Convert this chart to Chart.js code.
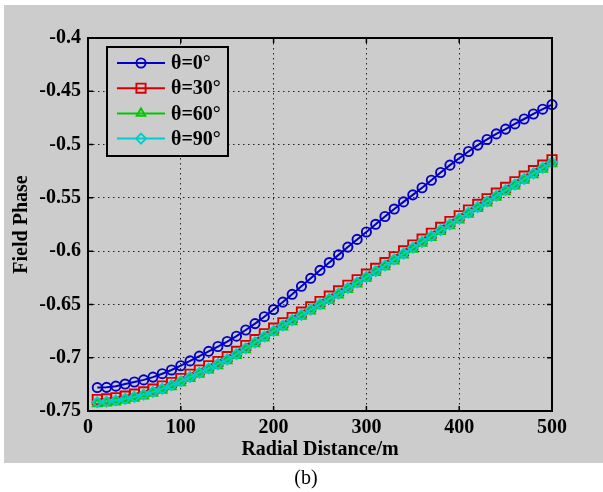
<!DOCTYPE html>
<html>
<head>
<meta charset="utf-8">
<script src="https://cdn.jsdelivr.net/npm/chart.js@4.4.1/dist/chart.umd.min.js"></script>
<style>
body { margin: 0; background: #fff; }
#wrap { position: relative; width: 603px; height: 492px; overflow: hidden; }
#bg { position: absolute; left: 4px; top: 5px; width: 599px; height: 458px; background: #cccccc; }
#c { position: absolute; left: 0; top: 0; }
#caption { position: absolute; left: 0; top: 465px; width: 612px; text-align: center; font: 20px 'Liberation Serif'; line-height: 24px; color: #000; }
</style>
</head>
<body>
<div id="wrap">
  <div id="bg"></div>
  <canvas id="c" width="603" height="492"></canvas>
  <div id="caption">(b)</div>
</div>
<script>
const distances = [10,20,30,40,50,60,70,80,90,100,110,120,130,140,150,160,170,180,190,200,
  210,220,230,240,250,260,270,280,290,300,310,320,330,340,350,360,370,380,390,400,
  410,420,430,440,450,460,470,480,490,500]

const phase0 = [-0.7280,-0.7278,-0.7267,-0.7247,-0.7228,-0.7208,-0.7182,-0.7150,-0.7115,-0.7075,
  -0.7030,-0.6985,-0.6940,-0.6895,-0.6848,-0.6798,-0.6740,-0.6680,-0.6615,-0.6548,
  -0.6478,-0.6405,-0.6330,-0.6255,-0.6180,-0.6107,-0.6035,-0.5962,-0.5890,-0.5820,
  -0.5748,-0.5675,-0.5605,-0.5538,-0.5472,-0.5405,-0.5335,-0.5262,-0.5193,-0.5128,
  -0.5065,-0.5005,-0.4952,-0.4900,-0.4855,-0.4806,-0.4760,-0.4713,-0.4668,-0.4625]

const phase30 = [-0.7392,-0.7386,-0.7375,-0.7360,-0.7342,-0.7320,-0.7295,-0.7265,-0.7232,-0.7195,
  -0.7155,-0.7115,-0.7075,-0.7035,-0.6990,-0.6940,-0.6885,-0.6830,-0.6775,-0.6722,
  -0.6672,-0.6622,-0.6572,-0.6522,-0.6472,-0.6422,-0.6372,-0.6320,-0.6268,-0.6215,
  -0.6161,-0.6107,-0.6052,-0.5997,-0.5942,-0.5887,-0.5832,-0.5777,-0.5722,-0.5668,
  -0.5614,-0.5561,-0.5508,-0.5455,-0.5402,-0.5349,-0.5296,-0.5244,-0.5192,-0.5142]

const phase60 = [-0.7432,-0.7426,-0.7415,-0.7400,-0.7382,-0.7360,-0.7335,-0.7305,-0.7272,-0.7235,
  -0.7195,-0.7155,-0.7115,-0.7075,-0.7030,-0.6980,-0.6925,-0.6870,-0.6815,-0.6762,
  -0.6712,-0.6662,-0.6612,-0.6562,-0.6512,-0.6462,-0.6412,-0.6360,-0.6308,-0.6255,
  -0.6201,-0.6147,-0.6092,-0.6037,-0.5982,-0.5927,-0.5872,-0.5817,-0.5762,-0.5708,
  -0.5654,-0.5601,-0.5548,-0.5495,-0.5442,-0.5389,-0.5336,-0.5284,-0.5232,-0.5180]

const phase90 = [-0.7418,-0.7412,-0.7401,-0.7386,-0.7368,-0.7346,-0.7321,-0.7291,-0.7258,-0.7221,
  -0.7181,-0.7141,-0.7101,-0.7061,-0.7016,-0.6966,-0.6911,-0.6856,-0.6801,-0.6748,
  -0.6698,-0.6648,-0.6598,-0.6548,-0.6498,-0.6448,-0.6398,-0.6346,-0.6294,-0.6241,
  -0.6187,-0.6133,-0.6078,-0.6023,-0.5968,-0.5913,-0.5858,-0.5803,-0.5748,-0.5694,
  -0.5640,-0.5587,-0.5534,-0.5481,-0.5428,-0.5375,-0.5322,-0.5270,-0.5218,-0.5168]

const seriesLabels = ["θ=0°", "θ=30°", "θ=60°", "θ=90°"]
const seriesColors = ["rgb(0,0,200)", "rgb(215,0,0)", "rgb(0,200,0)", "rgb(0,205,205)"]
const seriesMarkers = ["circle", "rect", "triangle", "rectRot"]
const markerSizes = [4.6, 6.5, 5, 5]

const xTicks = [0, 100, 200, 300, 400, 500]
const yTicks = [-0.75, -0.7, -0.65, -0.6, -0.55, -0.5, -0.45, -0.4]
const yTickLabels = ["-0.75", "-0.7", "-0.65", "-0.6", "-0.55", "-0.5", "-0.45", "-0.4"]

const font = { family: "'Liberation Serif'", size: 20, weight: "bold" }
const allSeries = [phase0, phase30, phase60, phase90]

function makeDataset(i){
    return {
        label: seriesLabels[i],
        data: distances.map((d, k) => ({ x: d, y: allSeries[i][k] })),
        borderColor: seriesColors[i],
        borderWidth: 2,
        pointStyle: seriesMarkers[i],
        pointRadius: markerSizes[i],
        pointBorderColor: seriesColors[i],
        pointBackgroundColor: "rgba(0,0,0,0)",
        pointBorderWidth: 1.9,
        tension: 0,
        clip: false,
        order: 3 - i
    }
}

// box, inward ticks and the legend inside the axes
const frame = {
    id: "frame",
    afterDatasetsDraw(chart){
        const ctx = chart.ctx
        const a = chart.chartArea
        const x = chart.scales.x, y = chart.scales.y
        ctx.save()
        ctx.strokeStyle = "#000"
        ctx.lineWidth = 1.5
        ctx.beginPath()
        xTicks.forEach(v => {
            const px = x.getPixelForValue(v)
            ctx.moveTo(px, a.bottom); ctx.lineTo(px, a.bottom - 5)
            ctx.moveTo(px, a.top); ctx.lineTo(px, a.top + 5)
        })
        yTicks.forEach(v => {
            const py = y.getPixelForValue(v)
            ctx.moveTo(a.left, py); ctx.lineTo(a.left + 5, py)
            ctx.moveTo(a.right, py); ctx.lineTo(a.right - 5, py)
        })
        ctx.stroke()
        ctx.lineWidth = 2
        ctx.strokeRect(a.left, a.top, a.right - a.left, a.bottom - a.top)

        // legend
        const lx = 107, ly = 47, lw = 121, lh = 109
        ctx.fillStyle = "#cccccc"
        ctx.fillRect(lx, ly, lw, lh)
        ctx.strokeRect(lx, ly, lw, lh)
        ctx.font = "bold 20px 'Liberation Serif'"
        ctx.textBaseline = "middle"
        seriesLabels.forEach((lab, i) => {
            const cy = 63 + i * 25.2
            ctx.strokeStyle = seriesColors[i]
            ctx.lineWidth = 2
            ctx.beginPath()
            ctx.moveTo(117, cy); ctx.lineTo(165, cy)
            ctx.stroke()
            ctx.lineWidth = 1.9
            ctx.fillStyle = "rgba(0,0,0,0)"
            Chart.helpers.drawPoint(ctx, { pointStyle: seriesMarkers[i], radius: markerSizes[i], rotation: 0, borderWidth: 1.9 }, 141, cy)
            ctx.fillStyle = "#000"
            ctx.fillText(lab, 171, cy + 1)
        })
        ctx.restore()
    }
}

function main(){
    const canvas = document.getElementById("c")
    new Chart(canvas.getContext("2d"), {
        type: "line",
        data: { datasets: [0, 1, 2, 3].map(makeDataset) },
        options: {
            responsive: false,
            animation: false,
            layout: { padding: { left: 0, top: 38, right: 51, bottom: 0 } },
            plugins: { legend: { display: false }, tooltip: { enabled: false } },
            scales: {
                x: {
                    type: "linear", min: 0, max: 500,
                    afterBuildTicks: s => { s.ticks = xTicks.map(v => ({ value: v })) },
                    afterFit: s => { s.height = 81 },
                    ticks: { font: font, color: "#000", padding: 5, maxRotation: 0 },
                    grid: { color: "#222", lineWidth: 1, drawTicks: false },
                    border: { display: false, dash: [1.5, 3.5] },
                    title: { display: true, text: "Radial Distance/m", font: font, color: "#000", padding: { top: 0, bottom: 30 } }
                },
                y: {
                    type: "linear", min: -0.75, max: -0.4,
                    afterBuildTicks: s => { s.ticks = yTicks.map(v => ({ value: v })) },
                    afterFit: s => { s.width = 88 },
                    ticks: { font: font, color: "#000", padding: 7, callback: (v, i) => yTickLabels[i] },
                    grid: { color: "#222", lineWidth: 1, drawTicks: false },
                    border: { display: false, dash: [1.5, 3.5] },
                    title: { display: true, text: "Field Phase", font: font, color: "#000", padding: { top: 10, bottom: 0 } }
                }
            }
        },
        plugins: [frame]
    })
}

main()
</script>
</body>
</html>
